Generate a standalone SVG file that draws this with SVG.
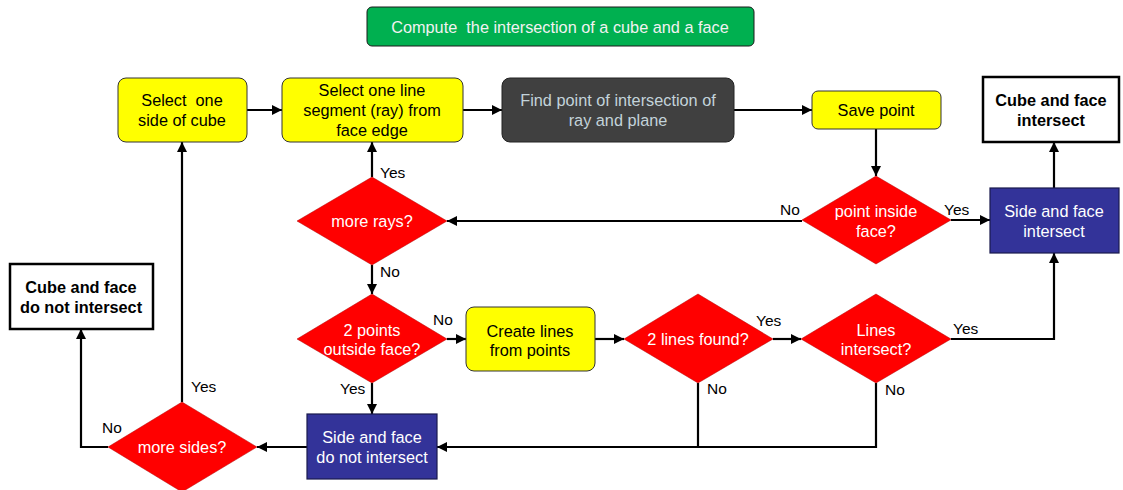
<svg xmlns="http://www.w3.org/2000/svg" width="1123" height="490" viewBox="0 0 1123 490">
<style>
.t{font-family:"Liberation Sans",Arial,sans-serif;font-size:16.3px;text-anchor:middle;white-space:pre}
.dk{fill:#000}
.wt{fill:#fff}
.lt{fill:#c3d3da}
.b{font-weight:bold}
.lb{font-family:"Liberation Sans",Arial,sans-serif;font-size:15.5px;fill:#000}
.yel{fill:#ffff00;stroke:#333;stroke-width:1}
.blu{fill:#333399;stroke:#1a1a4d;stroke-width:1.2}
.dia{fill:#ff0000;stroke:#b00000;stroke-width:0.5}
.out{fill:#fff;stroke:#000;stroke-width:2.5}
.c{fill:none;stroke:#000;stroke-width:2.2}
</style>
<defs>
<marker id="a" viewBox="0 0 10 10" refX="10" refY="5" markerWidth="10" markerHeight="10" markerUnits="userSpaceOnUse" orient="auto">
<path d="M0,0 L10,5 L0,10 Z" fill="#000"/>
</marker>
</defs>
<rect width="1123" height="490" fill="#fff"/>

<g id="title">
<rect x="367" y="7" width="387" height="39" rx="5" fill="#00b050" stroke="#1a1a1a" stroke-width="1"/>
<text class="t" x="560" y="33" fill="#f2f2f2" xml:space="preserve">Compute  the intersection of a cube and a face</text>
</g>

<g id="connectors">
<path class="c" d="M247,110 H282" marker-end="url(#a)"/>
<path class="c" d="M463,110 H502" marker-end="url(#a)"/>
<path class="c" d="M734,110 H812" marker-end="url(#a)"/>
<path class="c" d="M876,129 V176" marker-end="url(#a)"/>
<path class="c" d="M951,220 H990" marker-end="url(#a)"/>
<path class="c" d="M802,221 H447" marker-end="url(#a)"/>
<path class="c" d="M372,177 V142" marker-end="url(#a)"/>
<path class="c" d="M372,265 V294" marker-end="url(#a)"/>
<path class="c" d="M447,339 H466" marker-end="url(#a)"/>
<path class="c" d="M372,383 V414" marker-end="url(#a)"/>
<path class="c" d="M595,339 H624" marker-end="url(#a)"/>
<path class="c" d="M773,339 H801" marker-end="url(#a)"/>
<path class="c" d="M698,383 V447 H437" marker-end="url(#a)"/>
<path class="c" d="M876,383 V447 H698"/>
<path class="c" d="M951,339 H1054 V253" marker-end="url(#a)"/>
<path class="c" d="M1054,188 V142" marker-end="url(#a)"/>
<path class="c" d="M307,447 H257" marker-end="url(#a)"/>
<path class="c" d="M182,402 V142" marker-end="url(#a)"/>
<path class="c" d="M108,447 H81 V329" marker-end="url(#a)"/>
<text class="lb" x="380" y="178">Yes</text>
<text class="lb" x="780" y="215">No</text>
<text class="lb" x="944" y="215">Yes</text>
<text class="lb" x="380" y="277">No</text>
<text class="lb" x="433" y="325">No</text>
<text class="lb" x="340" y="394">Yes</text>
<text class="lb" x="191" y="392">Yes</text>
<text class="lb" x="102" y="433">No</text>
<text class="lb" x="707" y="394">No</text>
<text class="lb" x="756" y="326">Yes</text>
<text class="lb" x="953" y="334">Yes</text>
<text class="lb" x="885" y="395">No</text>
</g>

<g id="selectSide">
<rect class="yel" x="118" y="78" width="129" height="64" rx="8"/>
<text class="t dk" x="182" y="106" xml:space="preserve">Select  one</text>
<text class="t dk" x="182" y="126">side of cube</text>
</g>

<g id="selectLine">
<rect class="yel" x="282" y="78" width="181" height="64" rx="8"/>
<text class="t dk" x="372" y="96">Select one line</text>
<text class="t dk" x="372" y="116">segment (ray) from</text>
<text class="t dk" x="372" y="136">face edge</text>
</g>

<g id="findPoint">
<rect x="502" y="78" width="232" height="64" rx="8" fill="#404040" stroke="#222" stroke-width="1"/>
<text class="t lt" x="618" y="106">Find point of intersection of</text>
<text class="t lt" x="618" y="126">ray and plane</text>
</g>

<g id="savePoint">
<rect class="yel" x="812" y="91" width="129" height="38" rx="6"/>
<text class="t dk" x="876" y="116">Save point</text>
</g>

<g id="cubeIntersect">
<rect class="out" x="983" y="77" width="136" height="65"/>
<text class="t dk b" x="1051" y="106">Cube and face</text>
<text class="t dk b" x="1051" y="126">intersect</text>
</g>

<g id="pointInside">
<polygon class="dia" points="876,176 951,220 876,264 802,220"/>
<text class="t wt" x="876" y="217">point inside</text>
<text class="t wt" x="876" y="237">face?</text>
</g>

<g id="sideIntersect">
<rect class="blu" x="990" y="188" width="129" height="65"/>
<text class="t wt" x="1054" y="217">Side and face</text>
<text class="t wt" x="1054" y="237">intersect</text>
</g>

<g id="moreRays">
<polygon class="dia" points="372,177 447,221 372,265 297,221"/>
<text class="t wt" x="372" y="227">more rays?</text>
</g>

<g id="twoPoints">
<polygon class="dia" points="372,294 447,339 372,383 297,339"/>
<text class="t wt" x="372" y="336">2 points</text>
<text class="t wt" x="372" y="355">outside face?</text>
</g>

<g id="createLines">
<rect class="yel" x="466" y="307" width="129" height="64" rx="8"/>
<text class="t dk" x="530" y="337">Create lines</text>
<text class="t dk" x="530" y="356">from points</text>
</g>

<g id="twoLines">
<polygon class="dia" points="698,294 773,339 698,383 624,339"/>
<text class="t wt" x="698" y="345">2 lines found?</text>
</g>

<g id="linesIntersect">
<polygon class="dia" points="876,294 951,339 876,383 801,339"/>
<text class="t wt" x="876" y="336">Lines</text>
<text class="t wt" x="876" y="355">intersect?</text>
</g>

<g id="sideNotIntersect">
<rect class="blu" x="307" y="414" width="130" height="65"/>
<text class="t wt" x="372" y="443">Side and face</text>
<text class="t wt" x="372" y="463">do not intersect</text>
</g>

<g id="moreSides">
<polygon class="dia" points="182,402 257,447 182,492 108,447"/>
<text class="t wt" x="182" y="453">more sides?</text>
</g>

<g id="cubeNotIntersect">
<rect class="out" x="10" y="264" width="143" height="65"/>
<text class="t dk b" x="81" y="293">Cube and face</text>
<text class="t dk b" x="81" y="313">do not intersect</text>
</g>
</svg>
